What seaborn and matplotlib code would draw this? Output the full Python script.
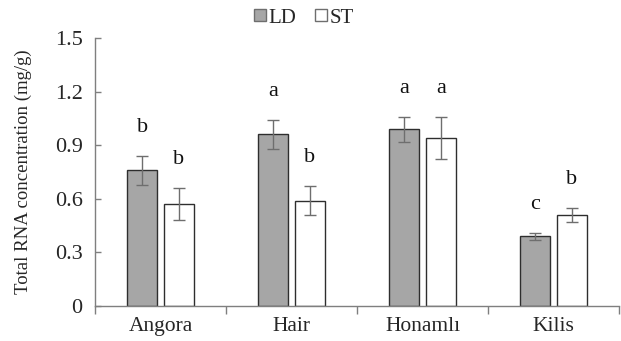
import numpy as np
import pandas as pd
import matplotlib
matplotlib.use("Agg")
import matplotlib.pyplot as plt
import seaborn as sns
from matplotlib.patches import Patch

# data
breeds = ["Angora", "Hair", "Honamlı", "Kilis"]
ld_mean = [0.76, 0.96, 0.99, 0.39]
ld_err = [0.08, 0.08, 0.07, 0.02]
st_mean = [0.57, 0.59, 0.94, 0.51]
st_err = [0.09, 0.08, 0.12, 0.04]
ld_letters = ["b", "a", "a", "c"]
st_letters = ["b", "b", "a", "b"]

df = pd.DataFrame({
    "breed": breeds * 2,
    "group": ["LD"] * 4 + ["ST"] * 4,
    "rna": ld_mean + st_mean,
    "err": ld_err + st_err,
    "letter": ld_letters + st_letters,
})

sns.set_style("white")
plt.rcParams["font.family"] = ["Liberation Serif", "DejaVu Serif"]

fig = plt.figure(figsize=(6.21, 3.41), dpi=100)
ax = fig.add_axes([0.153, 0.1026, 0.844, 0.786])

palette = {"LD": "#a6a6a6", "ST": "#ffffff"}
sns.barplot(data=df, x="breed", y="rna", hue="group", palette=palette,
            width=0.56, gap=0.18, edgecolor="#2e2e2e", linewidth=1.0,
            errorbar=None, legend=False, ax=ax)

# error bars and significance letters on top of each bar
bars = [p for p in ax.patches if p.get_height() > 0]
bars = sorted(bars, key=lambda p: p.get_x())
rows = []
for i in range(4):
    rows.append(df.iloc[i])
    rows.append(df.iloc[i + 4])
for p, r in zip(bars, rows):
    xc = p.get_x() + p.get_width() / 2
    ax.errorbar(xc, r["rna"], yerr=r["err"], fmt="none", ecolor="#6e6e6e",
                elinewidth=1.0, capsize=4, capthick=1.0)
    ax.text(xc, r["rna"] + r["err"] + 0.16, r["letter"], ha="center",
            va="center", fontsize=16, color="#111111")

ax.set_xlim(-0.5, 3.5)
ax.set_ylim(0, 1.5)
ax.set_yticks(np.arange(0, 1.51, 0.3))
ax.set_yticklabels(["0", "0.3", "0.6", "0.9", "1.2", "1.5"])
ax.set_xticks(range(4))
ax.set_xticklabels(breeds)
ax.set_xticks([-0.5, 0.5, 1.5, 2.5, 3.5], minor=True)
ax.tick_params(axis="x", which="major", length=0, labelsize=15.5, pad=8)
ax.tick_params(axis="x", which="minor", length=6, width=1, color="#7f7f7f",
               direction="out", bottom=True)
ax.tick_params(axis="y", which="major", length=4, width=1, color="#7f7f7f",
               direction="in", left=True, labelsize=16, pad=9)
ax.set_xlabel("")
ax.set_ylabel("Total RNA concentration (mg/g)", fontsize=13.5, labelpad=16)

sns.despine(ax=ax)
for s in ["left", "bottom"]:
    ax.spines[s].set_color("#7f7f7f")
    ax.spines[s].set_linewidth(1.0)

handles = [Patch(facecolor="#a6a6a6", edgecolor="#6e6e6e", label="LD"),
           Patch(facecolor="white", edgecolor="#6e6e6e", label="ST")]
fig.legend(handles=handles, loc="center", bbox_to_anchor=(0.49, 0.947),
           ncol=2, frameon=False, fontsize=15, handlelength=0.55,
           handleheight=0.55, handletextpad=0.15, columnspacing=0.9)

fig.savefig("out.png", dpi=100)
